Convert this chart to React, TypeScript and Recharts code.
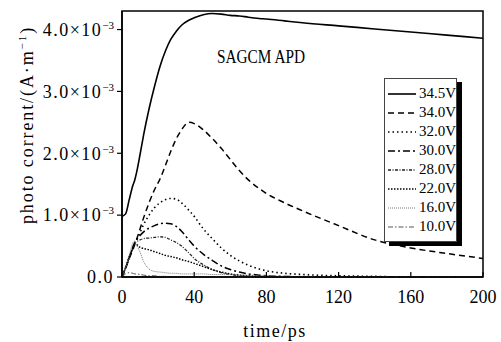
import React from "react";
import {
  LineChart,
  Line,
  XAxis,
  YAxis,
  Legend,
  ReferenceArea,
} from "recharts";

// time in ps, current in units of 10^-3 A·m^-1
const time = [0, 2, 4, 6, 7, 8, 10, 12, 15, 18, 21, 24, 27, 30, 33, 37, 40, 45, 50, 55, 60, 65, 70, 76, 80, 90, 100, 120, 140, 160, 180, 200];
const v345 = [0.98, 1.02, 1.25, 1.48, 1.56, 1.68, 1.98, 2.3, 2.72, 3.08, 3.4, 3.65, 3.84, 3.97, 4.07, 4.15, 4.19, 4.24, 4.26, 4.25, 4.23, 4.22, 4.2, 4.18, 4.17, 4.14, 4.11, 4.06, 4.01, 3.96, 3.91, 3.86];
const v340 = [0, 0.14, 0.3, 0.44, 0.52, 0.6, 0.78, 0.96, 1.2, 1.41, 1.58, 1.8, 2.03, 2.23, 2.38, 2.5, 2.48, 2.38, 2.24, 2.08, 1.9, 1.72, 1.57, 1.43, 1.35, 1.2, 1.07, 0.83, 0.6, 0.47, 0.38, 0.3];
const v320 = [0, 0.15, 0.32, 0.47, 0.55, 0.6, 0.72, 0.85, 1.0, 1.12, 1.2, 1.25, 1.27, 1.26, 1.2, 1.08, 0.98, 0.78, 0.62, 0.47, 0.35, 0.26, 0.19, 0.13, 0.1, 0.06, 0.04, 0.02, 0.01, 0, 0, 0];
const v300 = [0, 0.15, 0.32, 0.47, 0.55, 0.6, 0.67, 0.73, 0.79, 0.83, 0.86, 0.87, 0.86, 0.82, 0.74, 0.6, 0.5, 0.37, 0.27, 0.18, 0.12, 0.08, 0.05, 0.03, 0.02, 0.01, 0, 0, 0, 0, 0, 0];
const v280 = [0, 0.15, 0.32, 0.47, 0.55, 0.57, 0.6, 0.62, 0.63, 0.64, 0.65, 0.64, 0.6, 0.56, 0.5, 0.39, 0.3, 0.2, 0.12, 0.07, 0.04, 0.02, 0.01, 0, 0, 0, 0, 0, 0, 0, 0, 0];
const v220 = [0, 0.15, 0.32, 0.47, 0.55, 0.53, 0.48, 0.46, 0.44, 0.41, 0.38, 0.35, 0.33, 0.31, 0.28, 0.25, 0.22, 0.17, 0.12, 0.08, 0.05, 0.03, 0.02, 0.01, 0.01, 0, 0, 0, 0, 0, 0, 0];
const v160 = [0, 0.15, 0.35, 0.55, 0.58, 0.52, 0.4, 0.25, 0.13, 0.09, 0.08, 0.07, 0.06, 0.06, 0.05, 0.05, 0.05, 0.05, 0.04, 0.04, 0.04, 0.03, 0.03, 0.02, 0.02, 0.01, 0.01, 0, 0, 0, 0, 0];
const v100 = [0, 0.05, 0.07, 0.06, 0.05, 0.05, 0.04, 0.03, 0.02, 0.02, 0.01, 0.01, 0, 0, 0, 0, 0, 0, 0, 0, 0, 0, 0, 0, 0, 0, 0, 0, 0, 0, 0, 0];

const seriesNames = ["34.5V", "34.0V", "32.0V", "30.0V", "28.0V", "22.0V", "16.0V", "10.0V"];
const seriesValues = [v345, v340, v320, v300, v280, v220, v160, v100];

const xTicks = [0, 40, 80, 120, 160, 200];
const yTicks = [0, 1, 2, 3, 4];
const yTickLabels = ["0.0", "1.0", "2.0", "3.0", "4.0"];

const styles = [
  { color: "#000", width: 1.6, dash: undefined },
  { color: "#000", width: 1.5, dash: "6 4" },
  { color: "#000", width: 1.6, dash: "1.5 3" },
  { color: "#000", width: 1.5, dash: "7 3 2 3" },
  { color: "#222", width: 1.3, dash: "3 1.5 1 1.5" },
  { color: "#000", width: 1.5, dash: "1.5 1.5" },
  { color: "#777", width: 1, dash: "1 1" },
  { color: "#555", width: 1, dash: "5 2 1.5 2" },
];

const data = time.map((t, i) => {
  const row: Record<string, number> = { t };
  seriesNames.forEach((n, k) => (row[n] = seriesValues[k][i]));
  return row;
});

const font = "'Liberation Serif', 'Times New Roman', serif";

const YTick = (props: any) => {
  const { x, y, payload } = props;
  const label = yTickLabels[yTicks.indexOf(payload.value)];
  if (payload.value === 0) {
    return (
      <text x={x} y={y} dy="0.35em" textAnchor="end" fontFamily={font} fontSize={18} letterSpacing={1.5} fill="#000">
        {label}
      </text>
    );
  }
  return (
    <text x={x} y={y} dy="0.35em" textAnchor="end" fontFamily={font} fontSize={18} fill="#000">
      <tspan letterSpacing={1.5}>{label}×10</tspan>
      <tspan dy={-7} fontSize={11}>−3</tspan>
    </text>
  );
};

const LegendBox = () => (
  <div
    style={{
      width: 73,
      height: 164,
      boxSizing: "border-box",
      border: "1px solid #444",
      background: "#fff",
      boxShadow: "5px 4px 0 #000",
      padding: "5px 0 0 3px",
      fontFamily: font,
      fontSize: 15,
      color: "#000",
    }}
  >
    {seriesNames.map((n, k) => (
      <div key={n} style={{ display: "flex", alignItems: "center", height: 19 }}>
        <svg width={28} height={6}>
          <line x1={0} y1={3} x2={28} y2={3} stroke={styles[k].color} strokeWidth={styles[k].width} strokeDasharray={styles[k].dash} />
        </svg>
        <span style={{ marginLeft: 3, lineHeight: "19px" }}>{n}</span>
      </div>
    ))}
  </div>
);

export default function App() {
  return (
    <div style={{ position: "absolute", left: 0, top: 0, background: "#fff" }}>
      <LineChart width={501} height={342} data={data} margin={{ top: 11, right: 18, left: 0, bottom: 0 }}>
        <XAxis
          dataKey="t"
          type="number"
          domain={[0, 200]}
          ticks={xTicks}
          tickSize={-5}
          tickMargin={18}
          axisLine={{ stroke: "#000", strokeWidth: 1.5 }}
          tickLine={{ stroke: "#000", strokeWidth: 1.2 }}
          tick={{ fill: "#000", fontFamily: font, fontSize: 18 }}
          height={65}
          label={{
            content: () => (
              <text x={275} y={337} textAnchor="middle" fontFamily={font} fontSize={18} letterSpacing={1.5} fill="#000">
                time/ps
              </text>
            ),
          }}
        />
        <YAxis
          type="number"
          domain={[0, 4.3]}
          ticks={yTicks}
          tickSize={5}
          tickMargin={3}
          width={122}
          axisLine={{ stroke: "#000", strokeWidth: 1.5 }}
          tickLine={{ stroke: "#000", strokeWidth: 1.2 }}
          tick={<YTick />}
          label={{
            content: () => (
              <text transform="translate(33,125) rotate(-90)" textAnchor="middle" fontFamily={font} fontSize={18} letterSpacing={1.9} fill="#000">
                photo corrent/(A·m<tspan dy={-7} fontSize={11}>−1</tspan>
                <tspan dy={7}>)</tspan>
              </text>
            ),
          }}
        />
        <ReferenceArea
          x1={0}
          x2={200}
          y1={0}
          y2={4.3}
          fill="none"
          stroke="#000"
          strokeWidth={1.5}
          label={{
            content: () => (
              <text x={217} y={63} fontFamily={font} fontSize={18} textLength={88} lengthAdjust="spacingAndGlyphs" fill="#000">
                SAGCM APD
              </text>
            ),
          }}
        />
        {seriesNames.map((n, k) => (
          <Line
            key={n}
            type="monotone"
            dataKey={n}
            stroke={styles[k].color}
            strokeWidth={styles[k].width}
            strokeDasharray={styles[k].dash}
            dot={false}
            isAnimationActive={false}
          />
        ))}
        <Legend
          layout="vertical"
          align="center"
          verticalAlign="middle"
          content={() => <LegendBox />}
          wrapperStyle={{ position: "absolute", left: 384, top: 78, width: "auto", height: "auto" }}
        />
      </LineChart>
    </div>
  );
}
